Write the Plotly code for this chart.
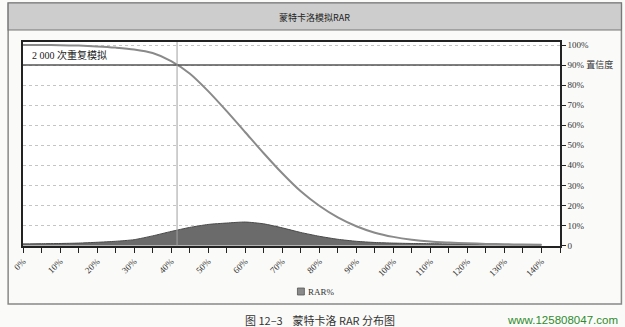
import plotly.graph_objects as go

# RAR buckets (percent) and simulated results
rar_pct = [0, 5, 10, 15, 20, 25, 30, 35, 40, 45, 50, 55, 60, 65, 70,
           75, 80, 85, 90, 95, 100, 105, 110, 115, 120, 125, 130, 135, 140]
# frequency of each RAR bucket (%)
frequency = [0.8, 0.9, 1.0, 1.2, 1.6, 2.1, 2.9, 4.8, 7.0, 9.0, 10.5, 11.2, 11.7, 10.8, 8.8,
             6.5, 4.6, 3.1, 2.1, 1.5, 1.2, 1.0, 0.9, 0.8, 0.7, 0.6, 0.5, 0.5, 0.4]
# share of simulations exceeding each RAR level (%)
exceedance = [100, 100, 99.9, 99.7, 99.3, 98.7, 97.8, 96.0, 92.0, 85.8, 77.0, 67.0, 56.5, 46.0, 36.0,
              27.0, 19.8, 14.0, 9.6, 6.4, 4.3, 2.9, 2.0, 1.5, 1.1, 0.8, 0.6, 0.5, 0.4]

confidence_level = 90
rar_at_confidence = 41.6

x_ticks = list(range(0, 141, 10))
x_labels = [f"{v}%" for v in x_ticks]
y_ticks = list(range(0, 101, 10))
y_labels = ["0"] + [f"{v}%" for v in y_ticks[1:]]
y_labels[9] = "90% 置信度"

W, H = 625, 327
L, R, T, B = 18, 560, 42, 246


def px(x):
    return (x - L) / (R - L)


def py(y):
    return (B - y) / (B - T)


serif = "Liberation Serif, Noto Sans CJK SC, serif"
sans = "Noto Sans CJK SC, Liberation Sans, sans-serif"

fig = go.Figure()

fig.add_trace(go.Scatter(
    x=rar_pct, y=frequency, mode="lines", name="RAR%", showlegend=False,
    line=dict(color="#4a4a4a", width=1, shape="spline", smoothing=0.6),
    fill="tozeroy", fillcolor="#6b6b6b",
))
fig.add_trace(go.Scatter(
    x=rar_pct, y=exceedance, mode="lines", showlegend=False,
    line=dict(color="#8a8a8a", width=2, shape="spline", smoothing=0.8),
))

# confidence markers
fig.add_shape(type="line", xref="x", yref="y", x0=0, x1=145,
              y0=confidence_level, y1=confidence_level,
              line=dict(color="#555555", width=1.5))
fig.add_shape(type="line", xref="x", yref="y", x0=rar_at_confidence, x1=rar_at_confidence,
              y0=0, y1=101.5, line=dict(color="#a0a0a0", width=1))

# frame and title band
fig.add_shape(type="rect", xref="paper", yref="paper",
              x0=px(3), x1=px(622), y0=py(304), y1=py(3),
              line=dict(color="#888888", width=1.5), fillcolor="rgba(0,0,0,0)", layer="below")
fig.add_shape(type="rect", xref="paper", yref="paper",
              x0=px(3), x1=px(622), y0=py(30), y1=py(3),
              line=dict(color="#777777", width=1.2), fillcolor="#cdcdcd", layer="below")

# legend key for the frequency area
fig.add_shape(type="rect", xref="paper", yref="paper",
              x0=px(295), x1=px(302), y0=py(295), y1=py(288),
              line=dict(color="#555555", width=0.8), fillcolor="#8a8a8a")


def note(x, y, text, font, xanchor="center"):
    fig.add_annotation(xref="paper", yref="paper", x=px(x), y=py(y), text=text,
                       xanchor=xanchor, yanchor="middle", showarrow=False, font=font)


note(304, 291.5, "RAR%", dict(family=serif, size=9, color="#333333"), "left")
note(312, 17, "蒙特卡洛模拟RAR", dict(family=sans, size=9, color="#222222"))
note(25, 55, "2 000 次重复模拟", dict(family=serif, size=10, color="#222222"), "left")
note(240, 320, "图 12–3&#160;&#160;&#160;&#160;蒙特卡洛 RAR 分布图",
     dict(family=sans, size=11, color="#333333"), "left")
note(621, 320, "www.125808047.com",
     dict(family="Liberation Sans, sans-serif", size=11.5, color="#2e8b2e"), "right")

fig.update_xaxes(
    range=[0, 145], tickvals=x_ticks, ticktext=x_labels, tickangle=-45,
    ticks="outside", ticklen=5, tickcolor="#222222",
    minor=dict(dtick=5, tick0=0, ticks="outside", ticklen=5, tickcolor="#222222"),
    showline=True, linecolor="#222222", linewidth=1.5, mirror=True,
    showgrid=False, zeroline=False,
    tickfont=dict(family=serif, size=9, color="#333333"),
)
fig.update_yaxes(
    range=[-0.25, 101.5], side="right", tickvals=y_ticks, ticktext=y_labels,
    ticks="outside", ticklen=4, tickcolor="#222222",
    showline=True, linecolor="#222222", linewidth=1.5, mirror=True,
    showgrid=True, gridcolor="#c4c4c4", griddash="dot", gridwidth=1, zeroline=False,
    tickfont=dict(family=serif, size=9, color="#333333"),
)

fig.update_layout(
    width=W, height=H,
    margin=dict(l=L, r=W - R, t=T, b=H - B),
    paper_bgcolor="#fafaf8", plot_bgcolor="#ffffff",
    showlegend=False,
)

fig.write_html("out.html")
